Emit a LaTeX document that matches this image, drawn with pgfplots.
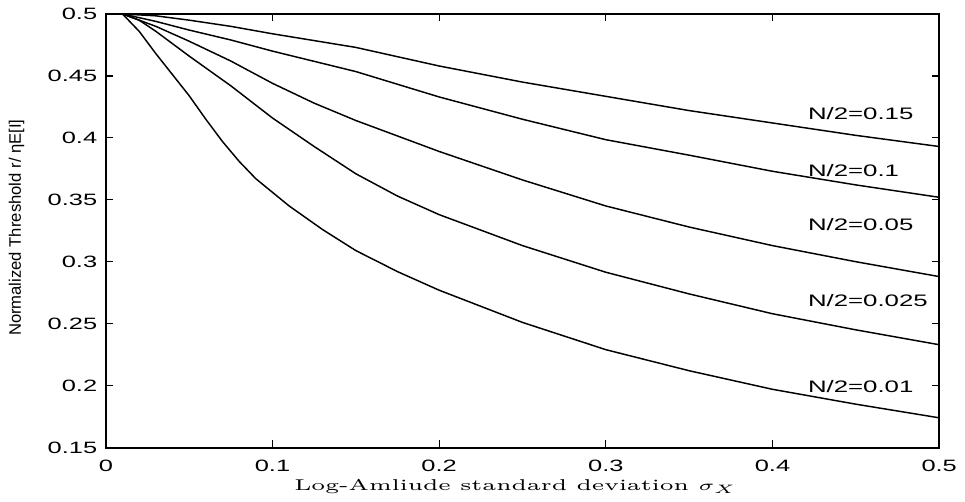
\documentclass[border=0pt]{standalone}
\usepackage{fontspec}
\usepackage{graphicx}
\usepackage{pgfplots}
\pgfplotsset{compat=1.18}
\newfontfamily\tickfont[FakeStretch=1.55]{Liberation Sans}
\newfontfamily\ylabfont{Liberation Sans}
\newfontfamily\xlabfont[FakeStretch=1.45]{Latin Modern Roman}
\begin{document}
\begin{tikzpicture}
\begin{axis}[
  scale only axis,
  width=340.4pt, height=177.1pt,
  xmin=0, xmax=0.5, ymin=0.15, ymax=0.5,
  xtick={0,0.1,0.2,0.3,0.4,0.5},
  ytick={0.15,0.2,0.25,0.3,0.35,0.4,0.45,0.5},
  xticklabels={0,0.1,0.2,0.3,0.4,0.5},
  yticklabels={0.15,0.2,0.25,0.3,0.35,0.4,0.45,0.5},
  tick align=inside,
  major tick length=3pt,
  tick style={black, line width=0.5pt},
  axis line style={line width=0.8pt},
  ticklabel style={font=\tickfont\fontsize{6.7}{8}\selectfont},
  xticklabel style={yshift=-1.5pt},
  clip=false,
  xlabel={\xlabfont\fontsize{6.4}{8}\selectfont Log-Amliude standard deviation \scalebox{1.45}[1]{$\sigma_X$}},
  ylabel={\ylabfont\fontsize{6.8}{8}\selectfont Normalized Threshold r/ ηE[I]},
  xlabel style={at={(axis description cs:0.4916,-0.090)}, anchor=center},
  ylabel style={at={(axis description cs:-0.107,0.507)}, anchor=center},
]
\addplot[black, line width=0.6pt] coordinates {
(0.01,0.5) (0.03,0.4985) (0.05,0.495) (0.075,0.490) (0.1,0.484) (0.15,0.473)
(0.2,0.458) (0.25,0.445) (0.3,0.4335) (0.35,0.422) (0.4,0.412) (0.45,0.402) (0.5,0.393)};
\addplot[black, line width=0.6pt] coordinates {
(0.01,0.5) (0.03,0.494) (0.05,0.487) (0.075,0.479) (0.1,0.470) (0.15,0.4535)
(0.2,0.433) (0.25,0.415) (0.3,0.3985) (0.35,0.386) (0.4,0.373) (0.45,0.362) (0.5,0.352)};
\addplot[black, line width=0.6pt] coordinates {
(0.01,0.5) (0.03,0.490) (0.05,0.478) (0.075,0.462) (0.1,0.444) (0.125,0.428) (0.15,0.414)
(0.2,0.389) (0.25,0.366) (0.3,0.345) (0.35,0.328) (0.4,0.313) (0.45,0.300) (0.5,0.288)};
\addplot[black, line width=0.6pt] coordinates {
(0.01,0.5) (0.02,0.495) (0.03,0.486) (0.05,0.466) (0.075,0.442) (0.1,0.416) (0.125,0.393)
(0.15,0.371) (0.175,0.353) (0.2,0.338) (0.25,0.313) (0.3,0.2915) (0.35,0.274) (0.4,0.258)
(0.45,0.245) (0.5,0.233)};
\addplot[black, line width=0.6pt] coordinates {
(0.01,0.5) (0.02,0.486) (0.03,0.468) (0.05,0.434) (0.06,0.415) (0.07,0.397) (0.08,0.381)
(0.09,0.367) (0.11,0.345) (0.13,0.326) (0.15,0.309) (0.175,0.292) (0.2,0.277) (0.25,0.251)
(0.3,0.229) (0.35,0.212) (0.4,0.197) (0.45,0.185) (0.5,0.174)};
\node[anchor=west, inner sep=0pt, font=\tickfont\fontsize{6.8}{8}\selectfont] at (axis cs:0.421,0.420) {N/2=0.15};
\node[anchor=west, inner sep=0pt, font=\tickfont\fontsize{6.8}{8}\selectfont] at (axis cs:0.421,0.374) {N/2=0.1};
\node[anchor=west, inner sep=0pt, font=\tickfont\fontsize{6.8}{8}\selectfont] at (axis cs:0.421,0.330) {N/2=0.05};
\node[anchor=west, inner sep=0pt, font=\tickfont\fontsize{6.8}{8}\selectfont] at (axis cs:0.421,0.269) {N/2=0.025};
\node[anchor=west, inner sep=0pt, font=\tickfont\fontsize{6.8}{8}\selectfont] at (axis cs:0.421,0.199) {N/2=0.01};
\path (rel axis cs:-0.127,-0.120) (rel axis cs:1.030,1.018);
\end{axis}
\end{tikzpicture}
\end{document}
